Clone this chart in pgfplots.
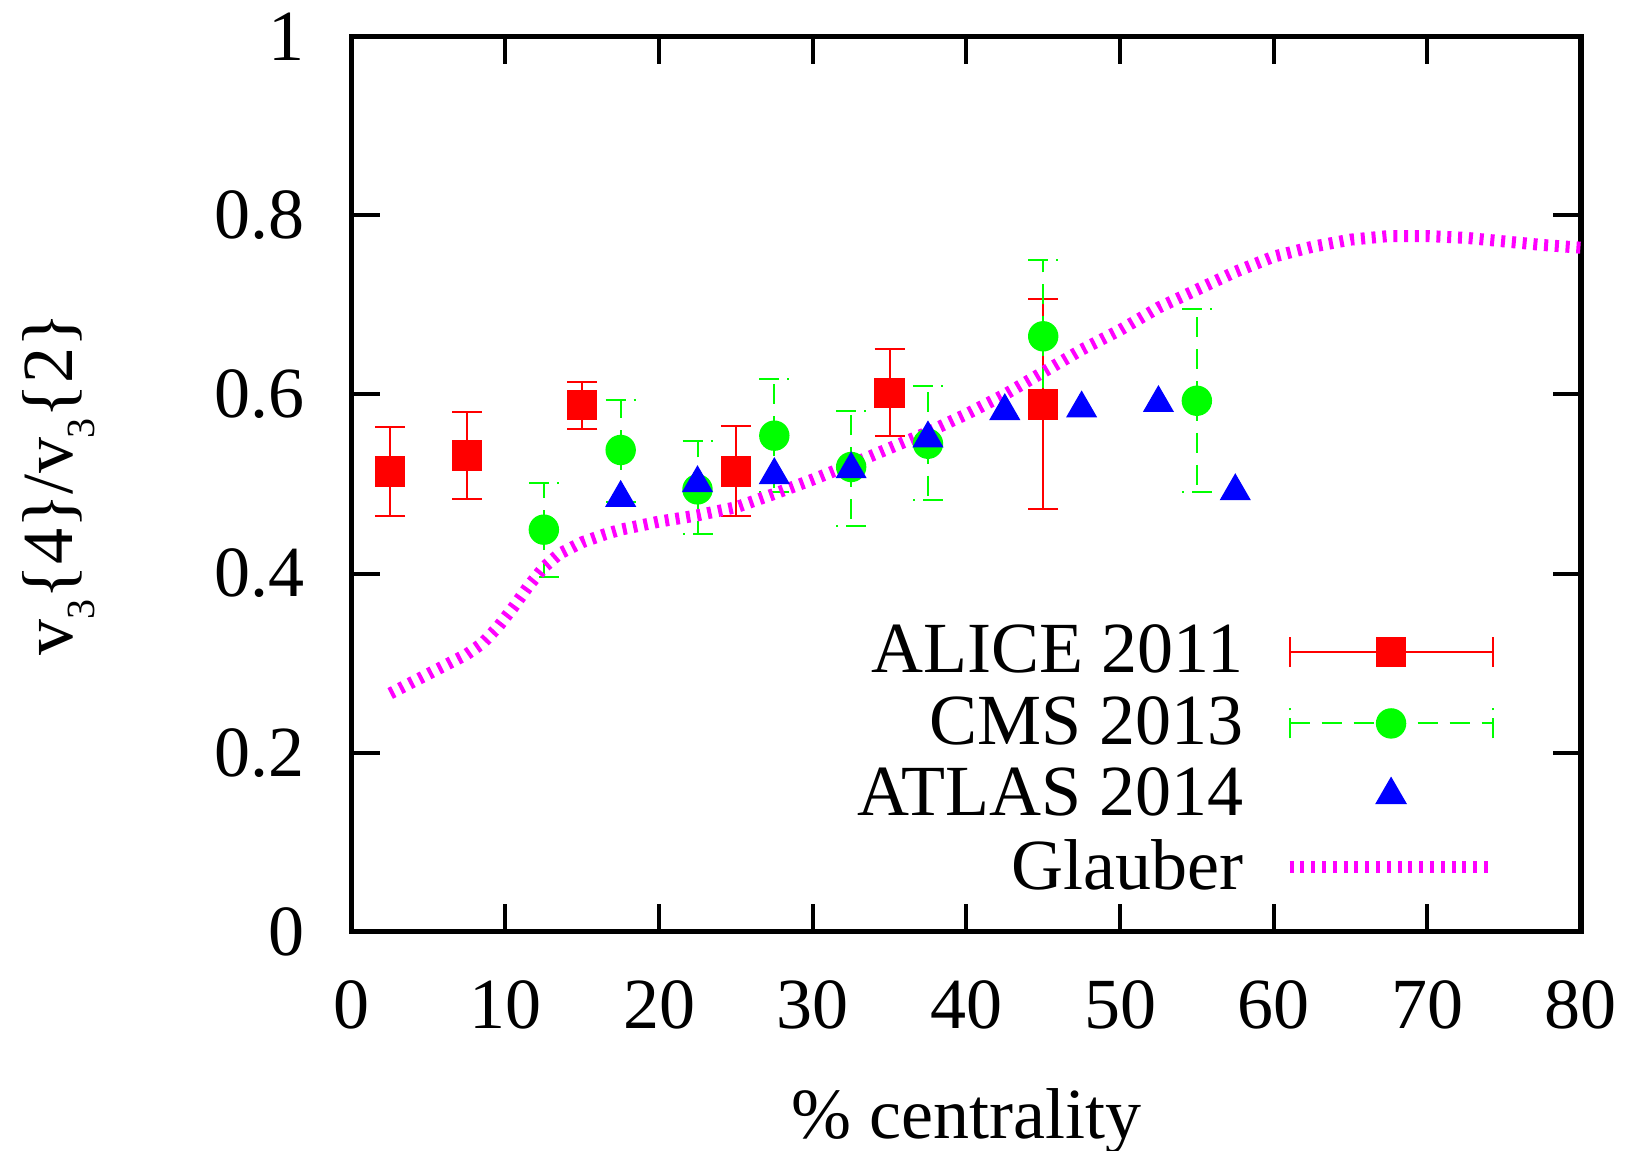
\documentclass[border=0pt]{standalone}
\usepackage{fontspec}
\setmainfont{Liberation Serif}
\usepackage{pgfplots}
\usepackage{pgfplotstable}
\pgfplotsset{compat=1.18}
\definecolor{gred}{RGB}{255,0,0}
\definecolor{ggreen}{RGB}{0,255,0}
\definecolor{gblue}{RGB}{0,0,255}
\definecolor{gmag}{RGB}{255,0,255}

\pgfplotstableread{
x y ep em
2.5 0.514 0.050 0.050
7.5 0.532 0.049 0.049
15 0.588 0.026 0.027
25 0.514 0.051 0.050
35 0.602 0.049 0.048
45 0.589 0.118 0.117
}\alice

\pgfplotstableread{
x y ep em
12.5 0.449 0.052 0.053
17.5 0.538 0.056 0.058
22.5 0.494 0.054 0.050
27.5 0.554 0.063 0.063
32.5 0.519 0.063 0.066
37.5 0.545 0.064 0.063
45 0.665 0.085 0.085
55 0.593 0.103 0.102
}\cms

\pgfplotstableread{
x y
17.5 0.4845
22.5 0.501
27.5 0.510
32.5 0.5165
37.5 0.551
42.5 0.5815
47.5 0.5845
52.5 0.5905
57.5 0.492
}\atlas

\pgfplotstableread{
x y
2.5 0.266
5 0.288
7.5 0.310
8.5 0.322
9.5 0.340
10.5 0.362
11.5 0.386
12.5 0.407
13.5 0.422
15 0.435
16.5 0.444
17.5 0.449
20 0.458
22.5 0.465
25 0.474
27.5 0.489
30 0.505
32.5 0.522
35 0.540
37.5 0.558
40 0.578
42.5 0.600
45 0.625
47.5 0.650
50 0.672
52.5 0.697
55 0.717
57.5 0.737
60 0.754
62.5 0.765
65 0.773
67.5 0.777
70 0.777
72.5 0.775
75 0.771
77.5 0.767
80 0.764
}\glauber

\newcommand{\bigfont}{\fontsize{18}{21.6}\selectfont}

\begin{document}
\begin{tikzpicture}[font=\bigfont]
\begin{axis}[name=ax,
  width=307.3pt, height=223.8pt, scale only axis,
  xmin=0, xmax=80, ymin=0, ymax=1,
  xtick={0,10,20,30,40,50,60,70,80},
  ytick={0,0.2,0.4,0.6,0.8,1},
  yticklabels={0,0.2,0.4,0.6,0.8,1},
  /pgf/number format/assume math mode=true,
  tick align=inside, major tick length=7pt,
  tick style={black, line width=1pt},
  axis line style={black, line width=1.3pt},
  tick label style={font=\bigfont},
  xticklabel style={inner sep=0pt, yshift=-12.1pt},
  yticklabel style={inner sep=0pt, xshift=-11.7pt},
  xlabel={\% centrality},
  ylabel={v\raisebox{-5.5pt}{\fontsize{10}{10}\selectfont 3}\{4\}/v\raisebox{-5.5pt}{\fontsize{10}{10}\selectfont 3}\{2\}},
  every axis x label/.style={at={(axis description cs:0.5,0)}, anchor=north, inner sep=0pt, yshift=-39.1pt, font=\bigfont},
  every axis y label/.style={at={(axis description cs:-0.2268,0.5)}, rotate=90, anchor=base, inner sep=0pt, font=\bigfont},
  legend plot pos=right,
  legend cell align=right,
  legend style={draw=none, fill=none, at={(0.9289,0.3425)}, anchor=north east,
    inner sep=0pt, outer sep=0pt, row sep=4.4pt, column sep=10.1pt,
    nodes={inner sep=0pt}, font=\bigfont},
]
\addplot[only marks, mark=square*, mark size=3.6pt,
  mark options={solid, fill=gred, draw=gred, line width=0.4pt},
  error bars/.cd, y dir=both, y explicit,
  error bar style={gred, line width=0.5pt, solid},
  error mark options={rotate=90, gred, mark size=3.75pt, line width=0.5pt, solid},
  /pgfplots/legend image code/.code={
    \draw[gred, line width=0.5pt] (0pt,0pt) -- (50.75pt,0pt)
      (0pt,-3.75pt) -- (0pt,3.75pt) (50.75pt,-3.75pt) -- (50.75pt,3.75pt);
    \draw[only marks, mark=square*, mark size=3.6pt, mark options={fill=gred, draw=gred, solid}] plot coordinates {(25.375pt,0pt)};
  }]
  table[x=x, y=y, y error plus=ep, y error minus=em] {\alice};
\addlegendentry{ALICE 2011}

\addplot[only marks, mark=*, mark size=3.6pt,
  mark options={solid, fill=ggreen, draw=ggreen, line width=0.4pt},
  error bars/.cd, y dir=both, y explicit,
  error bar style={ggreen, line width=0.5pt, dash pattern=on 5pt off 3pt},
  error mark options={rotate=90, ggreen, mark size=3.75pt, line width=0.5pt, dash pattern=on 5pt off 2pt},
  /pgfplots/legend image code/.code={
    \draw[ggreen, line width=0.5pt, dash pattern=on 5pt off 3pt] (0pt,0pt) -- (50.75pt,0pt);
    \draw[ggreen, line width=0.5pt, dash pattern=on 5pt off 2pt] (0pt,-3.75pt) -- (0pt,3.75pt) (50.75pt,-3.75pt) -- (50.75pt,3.75pt);
    \draw[only marks, mark=*, mark size=3.6pt, mark options={fill=ggreen, draw=ggreen, solid}] plot coordinates {(25.375pt,0pt)};
  }]
  table[x=x, y=y, y error plus=ep, y error minus=em] {\cms};
\addlegendentry{CMS 2013}

\addplot[only marks, mark=triangle*, mark size=4.2pt,
  mark options={solid, fill=gblue, draw=gblue, line width=0.3pt},
  /pgfplots/legend image code/.code={
    \path[draw=none, fill=none] (0pt,0pt) -- (50.75pt,0pt);
    \draw[only marks, mark=triangle*, mark size=4.2pt, mark options={fill=gblue, draw=gblue, solid}] plot coordinates {(25.375pt,0pt)};
  }]
  table[x=x, y=y] {\atlas};
\addlegendentry{ATLAS 2014}

\addplot[gmag, no markers, line width=3pt, dash pattern=on 1pt off 1.7pt,
  /pgfplots/legend image code/.code={
    \draw[gmag, line width=3pt, dash pattern=on 1pt off 1.7pt] (0pt,0pt) -- (49.5pt,0pt);
  }]
  table[x=x, y=y] {\glauber};
\addlegendentry{Glauber}
\end{axis}
\pgfresetboundingbox
\path[use as bounding box] ([shift={(-87.95pt,-54.6pt)}]ax.south west) rectangle ([shift={(12.75pt,9.1pt)}]ax.north east);
\end{tikzpicture}
\end{document}
